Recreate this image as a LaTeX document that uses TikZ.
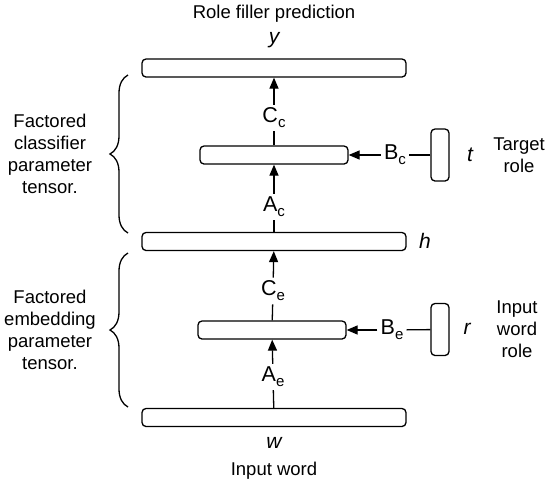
\documentclass[tikz,border=0pt]{standalone}
\usepackage{fontspec}
\setmainfont{Liberation Sans}
\usetikzlibrary{arrows.meta,decorations.pathreplacing}

\newcommand{\wsub}[2]{#1\raisebox{-0.45ex}{\fontsize{15}{15}\selectfont #2}}

\tikzset{
  layer/.style={draw, line width=1.3pt, rounded corners=4pt, inner sep=0pt, minimum height=18pt},
  rolebox/.style={draw, line width=1.3pt, rounded corners=4pt, inner sep=0pt, minimum width=18pt, minimum height=52pt},
  lbl/.style={inner sep=3pt, font=\fontsize{21.5}{23}\selectfont},
  var/.style={inner sep=0pt, font=\fontsize{21}{23}\selectfont\itshape},
  txt/.style={inner sep=0pt, align=center, font=\fontsize{18.5}{22}\selectfont},
  arr/.style={line width=1.3pt, -{Triangle[length=11pt,width=9pt]}},
  conn/.style={line width=1.3pt},
  curly/.style={line width=1.3pt, decorate, decoration={brace, amplitude=18pt}}
}

\begin{document}
\begin{tikzpicture}[x=1pt, y=-1pt]
      \useasboundingbox (0,0) rectangle (549,483);
      % layers
      \node[layer, minimum width=264pt] (ybox) at (274,68) {};
      \node[layer, minimum width=148pt] (midc) at (274,155) {};
      \node[layer, minimum width=264pt] (hbox) at (274,241.5) {};
      \node[layer, minimum width=148pt] (mide) at (272,330) {};
      \node[layer, minimum width=264pt] (wbox) at (274,417.5) {};
      \node[rolebox] (tbox) at (440,155) {};
      \node[rolebox] (rbox) at (440,329.5) {};
      % tensor factors
      \node[lbl] (Cc) at (274,118) {\wsub{C}{c}};
      \node[lbl] (Ac) at (274,207) {\wsub{A}{c}};
      \node[lbl] (Bc) at (395,155) {\wsub{B}{c}};
      \node[lbl] (Ce) at (273,291) {\wsub{C}{e}};
      \node[lbl] (Ae) at (273,377) {\wsub{A}{e}};
      \node[lbl] (Be) at (392,330) {\wsub{B}{e}};
      % variables
      \node[var] (yvar) at (274,40) {y};
      \node[var] (hvar) at (425,241) {h};
      \node[var] (wvar) at (274,443) {w};
      \node[var] (tvar) at (470,155) {t};
      \node[var] (rvar) at (467,329) {r};
      % texts
      \node[txt] (pred) at (274,14) {Role filler prediction};
      \node[txt] (inword) at (274,471) {Input word};
      \node[txt] (target) at (519,155) {Target\\role};
      \node[txt] (inrole) at (517,329) {Input\\word\\role};
      \node[txt] (clsf) at (50,154) {Factored\\classifier\\parameter\\tensor.};
      \node[txt] (embd) at (50,330) {Factored\\embedding\\parameter\\tensor.};
      % connectors
      \draw[conn] (midc) -- (Cc);
      \draw[arr] (Cc) -- (ybox);
      \draw[conn] (hbox) -- (Ac);
      \draw[arr] (Ac) -- (midc);
      \draw[conn] (tbox) -- (Bc);
      \draw[arr] (Bc) -- (midc);
      \draw[conn] (mide) -- (Ce);
      \draw[arr] (Ce) -- (hbox);
      \draw[conn] (wbox) -- (Ae);
      \draw[arr] (Ae) -- (mide);
      \draw[conn] (rbox) -- (Be);
      \draw[arr] (Be) -- (mide);
      % braces
      \draw[curly] (128,233) -- (128,75);
      \draw[curly] (128,407) -- (128,253);
    \end{tikzpicture}
\end{document}
